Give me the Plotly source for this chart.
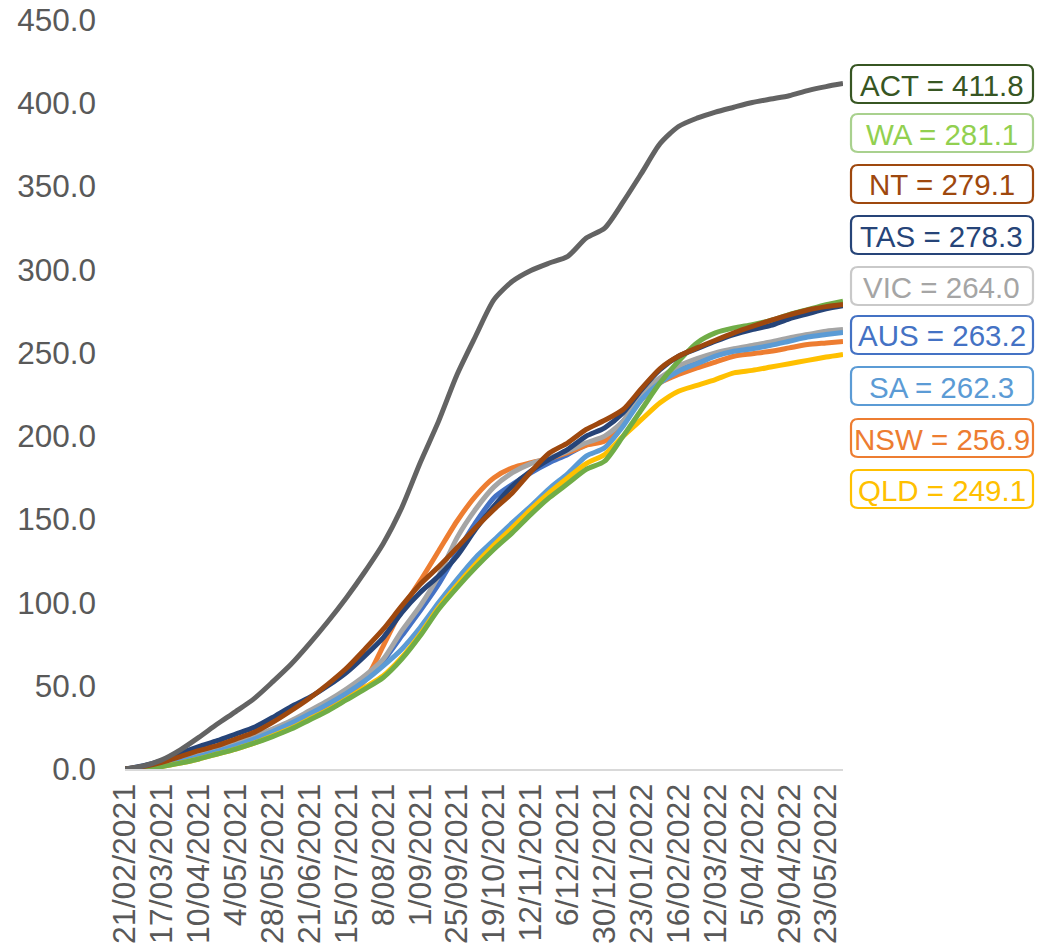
import plotly.graph_objects as go

dates = [
    "2021-02-21", "2021-03-05", "2021-03-17", "2021-03-29", "2021-04-10", "2021-04-22",
    "2021-05-04", "2021-05-16", "2021-05-28", "2021-06-09", "2021-06-21", "2021-07-03",
    "2021-07-15", "2021-07-27", "2021-08-08", "2021-08-20", "2021-09-01", "2021-09-13",
    "2021-09-25", "2021-10-07", "2021-10-19", "2021-10-31", "2021-11-12", "2021-11-24",
    "2021-12-06", "2021-12-18", "2021-12-30", "2022-01-11", "2022-01-23", "2022-02-04",
    "2022-02-16", "2022-02-28", "2022-03-12", "2022-03-24", "2022-04-05", "2022-04-17",
    "2022-04-29", "2022-05-11", "2022-05-23", "2022-06-03",
]

act = [0, 1.8, 5.5, 11.5, 19, 27, 34.5, 42.3, 52.3, 62.9, 75.3, 88.6, 102.9, 118.5, 135.5,
       157, 184, 209, 237, 260, 282, 293, 299.5, 304, 308, 319, 325, 340.7, 358, 375.7,
       386, 391, 394.7, 397.6, 400.4, 402.5, 404.5, 407.6, 410, 411.8]
nt = [0, 1.5, 4, 7.5, 11, 14, 18, 22, 28, 35, 42.5, 51, 60.5, 72, 84, 98, 111, 121.5, 133,
      145, 156, 166, 178.6, 189.8, 196, 204, 209.5, 216, 228.7, 240.6, 248, 253, 257.6,
      262, 265.9, 269.5, 272.8, 275.8, 277.8, 279.1]
tas = [0, 2, 5, 9.5, 13.5, 17, 21, 25, 31, 37.5, 43, 50, 58, 68, 79, 94, 106, 116, 128, 144,
       158, 170, 179, 186, 192, 200, 205, 214, 228, 240, 248, 252.5, 257, 261, 264, 266.5,
       270.5, 273.5, 276.5, 278.3]
vic = [0, 1, 3, 6, 9, 12, 15.5, 19.5, 24, 29, 35, 41, 48, 56, 66, 83, 98, 116, 139, 156,
       169.5, 178, 183.5, 187, 191, 196, 200, 209, 225, 235, 242, 246.5, 250, 252.5, 254.5,
       256.5, 259, 261, 263, 264.0]
aus = [0, 1, 3, 5.5, 8.5, 11.5, 15, 19, 23.5, 28.5, 34, 40, 47, 55, 65, 80, 95, 111, 130,
       148, 163, 171, 178, 184, 189, 195, 199, 209, 224, 234, 240.5, 245, 249, 251.5, 253.5,
       255.5, 258, 260, 262, 263.2]
sa = [0, 0.5, 2, 4.5, 7.5, 10.5, 14, 18, 22.5, 27.5, 33, 39, 45.5, 53, 62, 72, 85, 100, 114,
      127, 137.5, 148, 158, 168.5, 177.5, 188, 193, 206, 222, 232, 239, 243.5, 248, 251,
      252.5, 254.5, 257, 259.5, 261, 262.3]
nsw = [0, 0.5, 2, 4, 7, 10, 13.5, 17, 21.5, 26, 31, 37, 44, 53, 74, 96, 113, 131, 149, 164,
       175, 181, 184, 186.5, 190, 194.5, 197, 208, 222, 232, 237, 241, 244.5, 248, 249.5,
       251, 253, 255, 256, 256.9]
qld = [0, 0.3, 1.5, 3.5, 6, 9, 12, 15.5, 20, 24.5, 30, 35.5, 42, 49, 56, 67, 81, 97, 110.5,
       123, 134.5, 145, 156, 166, 175, 183.5, 189, 200, 210, 220, 227, 230.5, 234, 238,
       239.5, 241.5, 243.5, 245.5, 247.5, 249.1]
wa = [0, 0.3, 1.5, 3.5, 6, 9, 12, 15.5, 19.5, 24, 29.5, 35, 41.5, 48, 55, 66, 80, 96, 109,
      121, 132, 142, 153, 163, 171.5, 180, 185, 200, 216, 232, 245, 256, 262, 265, 267,
      269.5, 273, 276, 279, 281.1]

tick_dates = [
    "2021-02-21", "2021-03-17", "2021-04-10", "2021-05-04", "2021-05-28", "2021-06-21",
    "2021-07-15", "2021-08-08", "2021-09-01", "2021-09-25", "2021-10-19", "2021-11-12",
    "2021-12-06", "2021-12-30", "2022-01-23", "2022-02-16", "2022-03-12", "2022-04-05",
    "2022-04-29", "2022-05-23",
]
tick_text = [
    "21/02/2021", "17/03/2021", "10/04/2021", "4/05/2021", "28/05/2021", "21/06/2021",
    "15/07/2021", "8/08/2021", "1/09/2021", "25/09/2021", "19/10/2021", "12/11/2021",
    "6/12/2021", "30/12/2021", "23/01/2022", "16/02/2022", "12/03/2022", "5/04/2022",
    "29/04/2022", "23/05/2022",
]
y_ticks = [0, 50, 100, 150, 200, 250, 300, 350, 400, 450]

# (name, values, line colour, label text colour, label border colour)
series = [
    ("AUS", aus, "#4472C4", "#4472C4", "#4472C4"),
    ("NSW", nsw, "#ED7D31", "#ED7D31", "#ED7D31"),
    ("VIC", vic, "#A5A5A5", "#A5A5A5", "#C9C9C9"),
    ("SA", sa, "#5B9BD5", "#5B9BD5", "#5B9BD5"),
    ("QLD", qld, "#FFC000", "#FFC000", "#FFC000"),
    ("WA", wa, "#70AD47", "#92D050", "#A9D18E"),
    ("TAS", tas, "#264478", "#264478", "#264478"),
    ("NT", nt, "#9E480E", "#9E480E", "#9E480E"),
    ("ACT", act, "#636363", "#375623", "#375623"),
]
label_order = ["ACT", "WA", "NT", "TAS", "VIC", "AUS", "SA", "NSW", "QLD"]

W, H = 1051, 951
PL, PR, PT, PB = 125, 843, 20, 769  # plot-area edges in page pixels
ML, MT, MR, MB = PL, PT, W - PR, H - PB
PW, PH = PR - PL, PB - PT

fig = go.Figure()
for name, vals, col, _, _ in series:
    fig.add_trace(go.Scatter(x=dates, y=vals, mode="lines", name=name,
                             line=dict(color=col, width=5, shape="spline", smoothing=0.7),
                             showlegend=False))


def px2paper(x, y):
    return (x - PL) / PW, (PB - y) / PH


def rounded_box(x0, y0, x1, y1, r):
    def p(x, y):
        a, b = px2paper(x, y)
        return f"{a:.5f},{b:.5f}"
    return (f"M {p(x0 + r, y0)} L {p(x1 - r, y0)} Q {p(x1, y0)} {p(x1, y0 + r)} "
            f"L {p(x1, y1 - r)} Q {p(x1, y1)} {p(x1 - r, y1)} "
            f"L {p(x0 + r, y1)} Q {p(x0, y1)} {p(x0, y1 - r)} "
            f"L {p(x0, y0 + r)} Q {p(x0, y0)} {p(x0 + r, y0)} Z")


info = {s[0]: s for s in series}
box_tops = [65, 114, 165, 216, 267, 316, 367, 419, 470]
bx0, bx1, bh = 851, 1033, 38
for name, top in zip(label_order, box_tops):
    _, vals, _, tcol, bcol = info[name]
    fig.add_shape(type="path", path=rounded_box(bx0, top, bx1, top + bh, 7),
                  xref="paper", yref="paper", line=dict(color=bcol, width=2.2),
                  fillcolor="white", layer="above")
    cx, cy = px2paper((bx0 + bx1) / 2, top + bh / 2 + 1)
    fig.add_annotation(x=cx, y=cy, xref="paper", yref="paper", showarrow=False,
                       text=f"{name} = {vals[-1]:.1f}", xanchor="center", yanchor="middle",
                       font=dict(size=29.5, color=tcol, family="Liberation Sans, Arial"))

fig.update_layout(
    width=W, height=H,
    margin=dict(l=ML, r=MR, t=MT, b=MB, autoexpand=False),
    paper_bgcolor="white", plot_bgcolor="white",
    font=dict(family="Liberation Sans, Arial", color="#595959"),
    xaxis=dict(type="date", range=[dates[0], dates[-1]], tickvals=tick_dates,
               ticktext=tick_text, tickangle=-90, showgrid=False, zeroline=False,
               showline=True, linecolor="#D9D9D9", linewidth=2, ticks="",
               tickfont=dict(size=32, color="#595959"), ticklabelstandoff=0,
               automargin=False),
    yaxis=dict(range=[0, 450], tickvals=y_ticks,
               ticktext=[f"{v:.1f}" for v in y_ticks], showgrid=False, zeroline=False,
               showline=False, ticks="", tickfont=dict(size=31.5, color="#595959"),
               ticklabelstandoff=28, automargin=False),
)

fig.write_html("out.html", config={"displayModeBar": False},
               post_script="document.body.style.margin='0';document.body.style.padding='0';")
